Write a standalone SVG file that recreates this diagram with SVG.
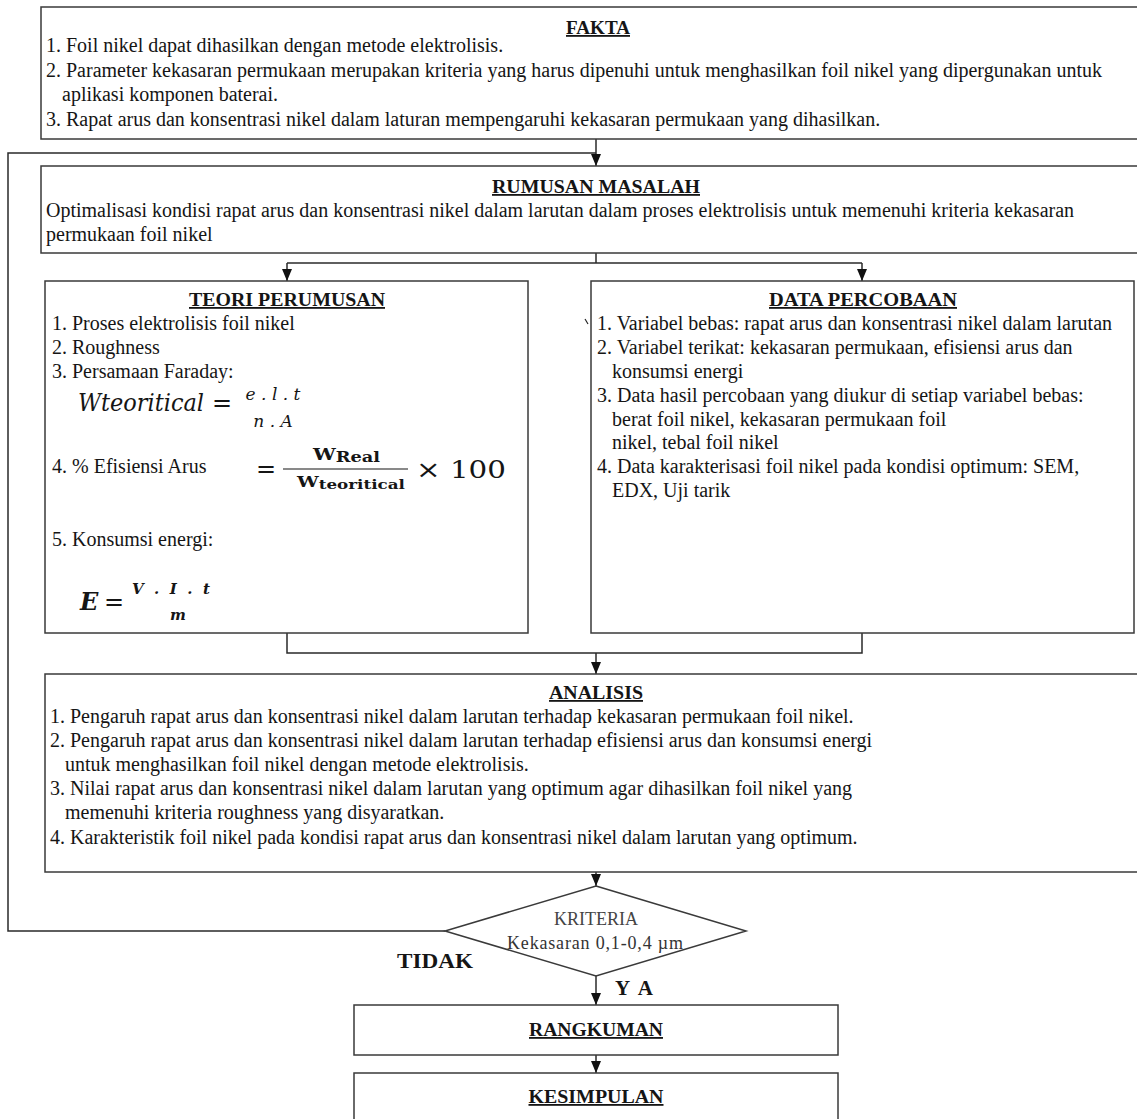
<svg xmlns="http://www.w3.org/2000/svg" width="1137" height="1119" viewBox="0 0 1137 1119">
<style>
.box{fill:#fff;stroke:#3a3a3a;stroke-width:1.5}
.ln{fill:none;stroke:#2a2a2a;stroke-width:1.5}
.t{font-family:"Liberation Serif","Times New Roman",serif;font-size:20px;fill:#151515}
.h{font-weight:bold;text-decoration:underline;text-anchor:middle;font-size:18px}
.s{font-size:18px}
.m{font-family:"DejaVu Serif","Liberation Serif",serif;fill:#151515}
.lbl{font-family:"Liberation Serif","Times New Roman",serif;font-weight:bold;font-size:21px;fill:#151515}
</style>
<defs>
<marker id="ah" viewBox="0 0 12 10" refX="12" refY="5" markerWidth="12" markerHeight="10" markerUnits="userSpaceOnUse" orient="auto">
<path d="M0,0 L12,5 L0,10 z" fill="#111"/>
</marker>
</defs>
<rect width="1137" height="1119" fill="#fff"/>

<g id="connectors">
<polyline class="ln" points="445,931 8,931 8,153 596,153"/>
<line class="ln" x1="596" y1="139" x2="596" y2="166" marker-end="url(#ah)"/>
<polyline class="ln" points="596,253 596,263"/>
<polyline class="ln" points="287,263 862,263"/>
<line class="ln" x1="287" y1="263" x2="287" y2="281" marker-end="url(#ah)"/>
<line class="ln" x1="862" y1="263" x2="862" y2="281" marker-end="url(#ah)"/>
<polyline class="ln" points="287,633 287,653 862,653 862,633"/>
<line class="ln" x1="596" y1="653" x2="596" y2="674" marker-end="url(#ah)"/>
<line class="ln" x1="596" y1="872" x2="596" y2="886" marker-end="url(#ah)"/>
<line class="ln" x1="596" y1="976" x2="596" y2="1005" marker-end="url(#ah)"/>
<line class="ln" x1="596" y1="1055" x2="596" y2="1073" marker-end="url(#ah)"/>
</g>

<g id="fakta">
<rect class="box" x="41" y="7" width="1110" height="132"/>
<text class="t h" x="598" y="34" textLength="64" lengthAdjust="spacingAndGlyphs">FAKTA</text>
<text class="t" x="46" y="52">1. Foil nikel dapat dihasilkan dengan metode elektrolisis.</text>
<text class="t" x="46" y="77">2. Parameter kekasaran permukaan merupakan kriteria yang harus dipenuhi untuk menghasilkan foil nikel yang dipergunakan untuk</text>
<text class="t" x="62" y="101">aplikasi komponen baterai.</text>
<text class="t" x="46" y="126">3. Rapat arus dan konsentrasi nikel dalam laturan mempengaruhi kekasaran permukaan yang dihasilkan.</text>
</g>

<g id="rumusan">
<rect class="box" x="41" y="166" width="1110" height="87"/>
<text class="t h" x="596" y="193" textLength="208" lengthAdjust="spacingAndGlyphs">RUMUSAN MASALAH</text>
<text class="t" x="46" y="217">Optimalisasi kondisi rapat arus dan konsentrasi nikel dalam larutan dalam proses elektrolisis untuk memenuhi kriteria kekasaran</text>
<text class="t" x="46" y="241">permukaan foil nikel</text>
</g>

<g id="teori">
<rect class="box" x="45" y="281" width="483" height="352"/>
<text class="t h" x="287" y="306" textLength="196" lengthAdjust="spacingAndGlyphs">TEORI PERUMUSAN</text>
<text class="t" x="52" y="330">1. Proses elektrolisis foil nikel</text>
<text class="t" x="52" y="354">2. Roughness</text>
<text class="t" x="52" y="378">3. Persamaan Faraday:</text>
<text class="m" x="78" y="411" font-size="24" font-style="italic" textLength="126" lengthAdjust="spacingAndGlyphs">Wteoritical</text>
<text class="m" x="212" y="411" font-size="24">=</text>
<text class="m" x="273" y="400" font-size="17" font-style="italic" text-anchor="middle">e . l . t</text>
<text class="m" x="273" y="427" font-size="17" font-style="italic" text-anchor="middle">n . A</text>
<text class="t" x="52" y="473">4. % Efisiensi Arus</text>
<text class="m" x="256" y="477" font-size="24">=</text>
<line x1="283" y1="469" x2="408" y2="469" stroke="#151515" stroke-width="1.2"/>
<text class="m" x="313" y="460" font-size="16" font-weight="bold" textLength="67" lengthAdjust="spacingAndGlyphs">W<tspan font-size="14" dy="2">Real</tspan></text>
<text class="m" x="297" y="487" font-size="15" font-weight="bold" textLength="108" lengthAdjust="spacingAndGlyphs">W<tspan font-size="13" dy="2">teoritical</tspan></text>
<text class="m" x="416" y="478" font-size="25" textLength="90" lengthAdjust="spacingAndGlyphs">× 100</text>
<text class="t" x="52" y="546">5. Konsumsi energi:</text>
<text class="m" x="80" y="610" font-size="24" font-weight="bold" font-style="italic">E</text>
<text class="m" x="104" y="610" font-size="24">=</text>
<text class="m" x="132" y="594" font-size="15" font-weight="bold" font-style="italic" textLength="78" lengthAdjust="spacing">V . I . t</text>
<text class="m" x="178" y="620" font-size="15" font-weight="bold" font-style="italic" text-anchor="middle">m</text>
</g>

<g id="data">
<rect class="box" x="591" y="281" width="543" height="352"/>
<text class="t h" x="863" y="306" textLength="188" lengthAdjust="spacingAndGlyphs">DATA PERCOBAAN</text>
<line x1="585" y1="319" x2="588" y2="324" stroke="#222" stroke-width="1.2"/>
<text class="t" x="597" y="330">1. Variabel bebas: rapat arus dan konsentrasi nikel dalam larutan</text>
<text class="t" x="597" y="354">2. Variabel terikat: kekasaran permukaan, efisiensi arus dan</text>
<text class="t" x="612" y="378">konsumsi energi</text>
<text class="t" x="597" y="402">3. Data hasil percobaan yang diukur di setiap variabel bebas:</text>
<text class="t" x="612" y="426">berat foil nikel, kekasaran permukaan foil</text>
<text class="t" x="612" y="449">nikel, tebal foil nikel</text>
<text class="t" x="597" y="473">4. Data karakterisasi foil nikel pada kondisi optimum: SEM,</text>
<text class="t" x="612" y="497">EDX, Uji tarik</text>
</g>

<g id="analisis">
<rect class="box" x="45" y="674" width="1105" height="198"/>
<text class="t h" x="596" y="699" textLength="94" lengthAdjust="spacingAndGlyphs">ANALISIS</text>
<text class="t" x="50" y="723">1. Pengaruh rapat arus dan konsentrasi nikel dalam larutan terhadap kekasaran permukaan foil nikel.</text>
<text class="t" x="50" y="747">2. Pengaruh rapat arus dan konsentrasi nikel dalam larutan terhadap efisiensi arus dan konsumsi energi</text>
<text class="t" x="65" y="771">untuk menghasilkan foil nikel dengan metode elektrolisis.</text>
<text class="t" x="50" y="795">3. Nilai rapat arus dan konsentrasi nikel dalam larutan yang optimum agar dihasilkan foil nikel yang</text>
<text class="t" x="65" y="819">memenuhi kriteria roughness yang disyaratkan.</text>
<text class="t" x="50" y="844">4. Karakteristik foil nikel pada kondisi rapat arus dan konsentrasi nikel dalam larutan yang optimum.</text>
</g>

<g id="kriteria">
<polygon class="box" points="596,886 746,931 596,976 445,931"/>
<text class="t s" x="596" y="925" text-anchor="middle" style="fill:#444">KRITERIA</text>
<text class="t s" x="507" y="949" textLength="176" lengthAdjust="spacing" style="fill:#333">Kekasaran 0,1-0,4 µm</text>
</g>

<g id="labels">
<text class="lbl" x="397" y="968" textLength="76" lengthAdjust="spacingAndGlyphs">TIDAK</text>
<text class="lbl" x="615" y="995" textLength="38" lengthAdjust="spacing">YA</text>
</g>

<g id="rangkuman">
<rect class="box" x="354" y="1005" width="484" height="50"/>
<text class="t h" x="596" y="1036" textLength="134" lengthAdjust="spacingAndGlyphs">RANGKUMAN</text>
</g>

<g id="kesimpulan">
<rect class="box" x="354" y="1073" width="484" height="60"/>
<text class="t h" x="596" y="1103" textLength="135" lengthAdjust="spacingAndGlyphs">KESIMPULAN</text>
</g>
</svg>
